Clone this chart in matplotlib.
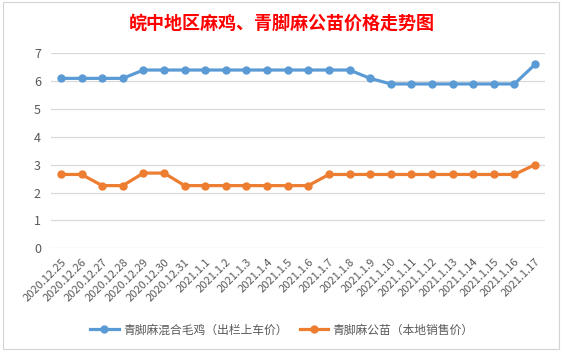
import matplotlib
matplotlib.use("Agg")
import matplotlib.pyplot as plt
from matplotlib.patches import Rectangle

plt.rcParams['font.family'] = ['Noto Sans CJK SC', 'DejaVu Sans']

dates = ["2020.12.25", "2020.12.26", "2020.12.27", "2020.12.28", "2020.12.29",
         "2020.12.30", "2020.12.31", "2021.1.1", "2021.1.2", "2021.1.3", "2021.1.4",
         "2021.1.5", "2021.1.6", "2021.1.7", "2021.1.8", "2021.1.9", "2021.1.10",
         "2021.1.11", "2021.1.12", "2021.1.13", "2021.1.14", "2021.1.15",
         "2021.1.16", "2021.1.17"]
mixed_chicken = [6.1, 6.1, 6.1, 6.1, 6.4, 6.4, 6.4, 6.4, 6.4, 6.4, 6.4, 6.4,
                 6.4, 6.4, 6.4, 6.1, 5.9, 5.9, 5.9, 5.9, 5.9, 5.9, 5.9, 6.6]
male_chick = [2.65, 2.65, 2.25, 2.25, 2.7, 2.7, 2.25, 2.25, 2.25, 2.25, 2.25,
              2.25, 2.25, 2.65, 2.65, 2.65, 2.65, 2.65, 2.65, 2.65, 2.65, 2.65,
              2.65, 3.0]
series_names = ["青脚麻混合毛鸡（出栏上车价）", "青脚麻公苗（本地销售价）"]
title = "皖中地区麻鸡、青脚麻公苗价格走势图"

W, H = 564, 352
fig = plt.figure(figsize=(W / 100, H / 100), dpi=100)
fig.patch.set_facecolor('white')

# chart border
fig.patches.append(Rectangle((3 / W, 3 / H), 556 / W, 347 / H, transform=fig.transFigure,
                             fill=False, edgecolor='#D4D4D4', linewidth=0.8))

ax = fig.add_axes([50.7 / W, 1 - 248.3 / H, (545.3 - 50.7) / W, (248.3 - 53.3) / H])
x = list(range(len(dates)))
l1, = ax.plot(x, mixed_chicken, color='#5B9BD5', lw=2.3, marker='o', ms=5, label=series_names[0])
l2, = ax.plot(x, male_chick, color='#ED7D31', lw=2.3, marker='o', ms=5, label=series_names[1])

ax.set_xlim(-0.5, len(dates) - 0.5)
ax.set_ylim(0, 7)
ax.set_yticks(range(0, 8))
ax.grid(axis='y', color='#D9D9D9', lw=0.9)
ax.set_axisbelow(True)
for s in ax.spines.values():
    s.set_visible(False)
ax.tick_params(axis='both', length=0, colors='#595959')
ax.tick_params(axis='y', labelsize=9, pad=7)
ax.set_xticks(x)
ax.set_xticklabels(dates, rotation=45, ha='right', va='top', rotation_mode='anchor',
                   fontsize=8, color='#595959')
ax.tick_params(axis='x', pad=6)
for lab in ax.get_xticklabels():
    lab.set_x(lab.get_position()[0])

fig.text(0.5, 1 - 23 / H, title, ha='center', va='center', color='#FF0000',
         fontsize=13, fontweight='bold')

fig.legend(handles=[l1, l2], loc='center', bbox_to_anchor=(0.5, 1 - 330 / H), ncol=2,
           frameon=False, fontsize=8.5, handlelength=2.4, columnspacing=1.0,
           handletextpad=0.4, labelcolor='#595959')

fig.savefig('out.png', dpi=100, facecolor='white')
